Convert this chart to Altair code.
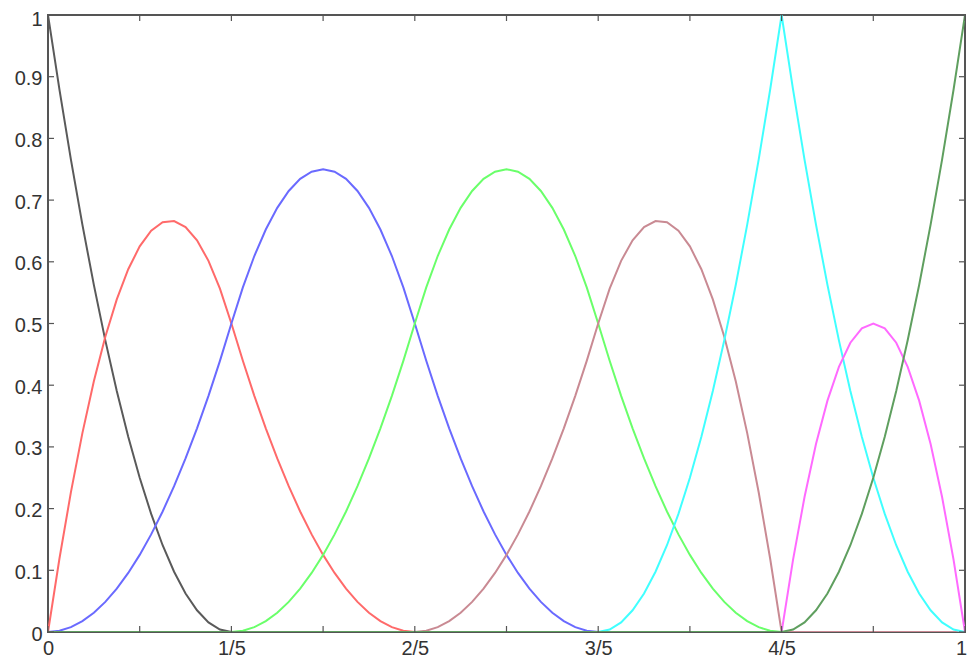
import altair as alt
import pandas as pd

# sample positions (x) along [0, 1]
x_grid = [0.0, 0.0125, 0.025, 0.0375, 0.05, 0.0625, 0.075, 0.0875, 0.1, 0.1125,
          0.125, 0.1375, 0.15, 0.1625, 0.175, 0.1875, 0.2, 0.2125, 0.225, 0.2375,
          0.25, 0.2625, 0.275, 0.2875, 0.3, 0.3125, 0.325, 0.3375, 0.35, 0.3625,
          0.375, 0.3875, 0.4, 0.4125, 0.425, 0.4375, 0.45, 0.4625, 0.475, 0.4875,
          0.5, 0.5125, 0.525, 0.5375, 0.55, 0.5625, 0.575, 0.5875, 0.6, 0.6125,
          0.625, 0.6375, 0.65, 0.6625, 0.675, 0.6875, 0.7, 0.7125, 0.725, 0.7375,
          0.75, 0.7625, 0.775, 0.7875, 0.8, 0.8125, 0.825, 0.8375, 0.85, 0.8625,
          0.875, 0.8875, 0.9, 0.9125, 0.925, 0.9375, 0.95, 0.9625, 0.975, 0.9875, 1.0]

# basis curves (81 samples each)
b_black = ([1.0, 0.8789, 0.7656, 0.6602, 0.5625, 0.4727, 0.3906, 0.3164, 0.25,
            0.1914, 0.1406, 0.0977, 0.0625, 0.0352, 0.0156, 0.0039, 0.0]
           + [0.0] * 64)
b_red = ([0.0, 0.1191, 0.2266, 0.3223, 0.4063, 0.4785, 0.5391, 0.5879, 0.625,
          0.6504, 0.6641, 0.6660, 0.6563, 0.6348, 0.6016, 0.5566, 0.5,
          0.4395, 0.3828, 0.3301, 0.2813, 0.2363, 0.1953, 0.1582, 0.125,
          0.0957, 0.0703, 0.0488, 0.0313, 0.0176, 0.0078, 0.0020, 0.0]
         + [0.0] * 48)
b_blue = ([0.0, 0.0020, 0.0078, 0.0176, 0.0313, 0.0488, 0.0703, 0.0957, 0.125,
           0.1582, 0.1953, 0.2363, 0.2813, 0.3301, 0.3828, 0.4395, 0.5,
           0.5586, 0.6094, 0.6523, 0.6875, 0.7148, 0.7344, 0.7461, 0.75,
           0.7461, 0.7344, 0.7148, 0.6875, 0.6523, 0.6094, 0.5586, 0.5,
           0.4395, 0.3828, 0.3301, 0.2813, 0.2363, 0.1953, 0.1582, 0.125,
           0.0957, 0.0703, 0.0488, 0.0313, 0.0176, 0.0078, 0.0020, 0.0]
          + [0.0] * 32)
b_green = ([0.0] * 16
           + [0.0, 0.0020, 0.0078, 0.0176, 0.0313, 0.0488, 0.0703, 0.0957, 0.125,
              0.1582, 0.1953, 0.2363, 0.2813, 0.3301, 0.3828, 0.4395, 0.5,
              0.5586, 0.6094, 0.6523, 0.6875, 0.7148, 0.7344, 0.7461, 0.75,
              0.7461, 0.7344, 0.7148, 0.6875, 0.6523, 0.6094, 0.5586, 0.5,
              0.4395, 0.3828, 0.3301, 0.2813, 0.2363, 0.1953, 0.1582, 0.125,
              0.0957, 0.0703, 0.0488, 0.0313, 0.0176, 0.0078, 0.0020, 0.0]
           + [0.0] * 16)
b_brown = ([0.0] * 32
           + [0.0, 0.0020, 0.0078, 0.0176, 0.0313, 0.0488, 0.0703, 0.0957, 0.125,
              0.1582, 0.1953, 0.2363, 0.2813, 0.3301, 0.3828, 0.4395, 0.5,
              0.5566, 0.6016, 0.6348, 0.6563, 0.6660, 0.6641, 0.6504, 0.625,
              0.5879, 0.5391, 0.4785, 0.4063, 0.3223, 0.2266, 0.1191, 0.0]
           + [0.0] * 16)
b_cyan = ([0.0] * 48
          + [0.0, 0.0039, 0.0156, 0.0352, 0.0625, 0.0977, 0.1406, 0.1914, 0.25,
             0.3164, 0.3906, 0.4727, 0.5625, 0.6602, 0.7656, 0.8789, 1.0,
             0.8789, 0.7656, 0.6602, 0.5625, 0.4727, 0.3906, 0.3164, 0.25,
             0.1914, 0.1406, 0.0977, 0.0625, 0.0352, 0.0156, 0.0039, 0.0])
b_magenta = ([0.0] * 64
             + [0.0, 0.1172, 0.2188, 0.3047, 0.375, 0.4297, 0.4688, 0.4922, 0.5,
                0.4922, 0.4688, 0.4297, 0.375, 0.3047, 0.2188, 0.1172, 0.0])
b_dkgreen = ([0.0] * 64
             + [0.0, 0.0039, 0.0156, 0.0352, 0.0625, 0.0977, 0.1406, 0.1914, 0.25,
                0.3164, 0.3906, 0.4727, 0.5625, 0.6602, 0.7656, 0.8789, 1.0])

names = ["b1", "b2", "b3", "b4", "b5", "b6", "b7", "b8"]
series = [b_black, b_red, b_blue, b_green, b_brown, b_cyan, b_magenta, b_dkgreen]
colors = ["#5a5a5a", "#ff6a6a", "#6a6aff", "#6aff6a", "#c98a93", "#40ffff", "#ff6aff", "#5f9f5f"]

x_ticks = [0.0, 0.1, 0.2, 0.3, 0.4, 0.5, 0.6, 0.7, 0.8, 0.9, 1.0]
y_ticks = [0.0, 0.1, 0.2, 0.3, 0.4, 0.5, 0.6, 0.7, 0.8, 0.9, 1.0]

rows = []
for name, ys in zip(names, series):
    for x, y in zip(x_grid, ys):
        rows.append({"x": x, "y": y, "s": name})
df = pd.DataFrame(rows)
ticks_df = pd.DataFrame({"t": x_ticks})
yticks_df = pd.DataFrame({"t": y_ticks})

W, H = 917, 617
FONT = "Liberation Sans"

xscale = alt.Scale(domain=[0, 1], nice=False, zero=False)
yscale = alt.Scale(domain=[0, 1], nice=False, zero=False)

x_label_expr = ("round(datum.value*10)==0 ? '0' : round(datum.value*10)==2 ? '1/5' : "
                "round(datum.value*10)==4 ? '2/5' : round(datum.value*10)==6 ? '3/5' : "
                "round(datum.value*10)==8 ? '4/5' : round(datum.value*10)==10 ? '1' : ''")
y_label_expr = "datum.value==0 ? '0' : datum.value==1 ? '1' : format(datum.value, '.1f')"

lines = alt.Chart(df).mark_line(strokeWidth=2, clip=True).encode(
    x=alt.X("x:Q", scale=xscale,
            axis=alt.Axis(values=x_ticks, labelExpr=x_label_expr, title=None,
                          ticks=False, domain=False, grid=False, labelFlush=False,
                          labelOverlap=False, labelPadding=6,
                          labelOffset={"condition": {"test": "datum.value >= 0.99", "value": -4},
                                       "value": 0},
                          labelFont=FONT, labelFontSize=20, labelColor="#333333")),
    y=alt.Y("y:Q", scale=yscale,
            axis=alt.Axis(values=y_ticks, labelExpr=y_label_expr, title=None,
                          ticks=False, domain=False, grid=False, labelFlush=False,
                          labelOverlap=False, labelPadding=6,
                          labelOffset={"condition": {"test": "datum.value >= 0.99", "value": 4},
                                       "value": 2},
                          labelFont=FONT, labelFontSize=20, labelColor="#333333")),
    color=alt.Color("s:N", scale=alt.Scale(domain=names, range=colors), legend=None),
    detail="s:N",
    order=alt.Order("x:Q"),
)

tick_color = "#555555"
bottom_ticks = alt.Chart(ticks_df).mark_rule(color=tick_color, strokeWidth=1.2).encode(
    x=alt.X("t:Q", scale=xscale), y=alt.value(H), y2=alt.value(H - 6))
top_ticks = alt.Chart(ticks_df).mark_rule(color=tick_color, strokeWidth=1.2).encode(
    x=alt.X("t:Q", scale=xscale), y=alt.value(0), y2=alt.value(6))
left_ticks = alt.Chart(yticks_df).mark_rule(color=tick_color, strokeWidth=1.2).encode(
    y=alt.Y("t:Q", scale=yscale), x=alt.value(0), x2=alt.value(6))
right_ticks = alt.Chart(yticks_df).mark_rule(color=tick_color, strokeWidth=1.2).encode(
    y=alt.Y("t:Q", scale=yscale), x=alt.value(W), x2=alt.value(W - 6))

chart = alt.layer(lines, bottom_ticks, top_ticks, left_ticks, right_ticks).properties(
    width=W, height=H,
    autosize=alt.AutoSizeParams(type="none"),
    padding={"left": 40, "top": 7, "right": 2, "bottom": 30},
).configure_view(
    stroke="#555555", strokeWidth=2
)

chart.save("out.html", embed_options={"renderer": "svg", "actions": False})
